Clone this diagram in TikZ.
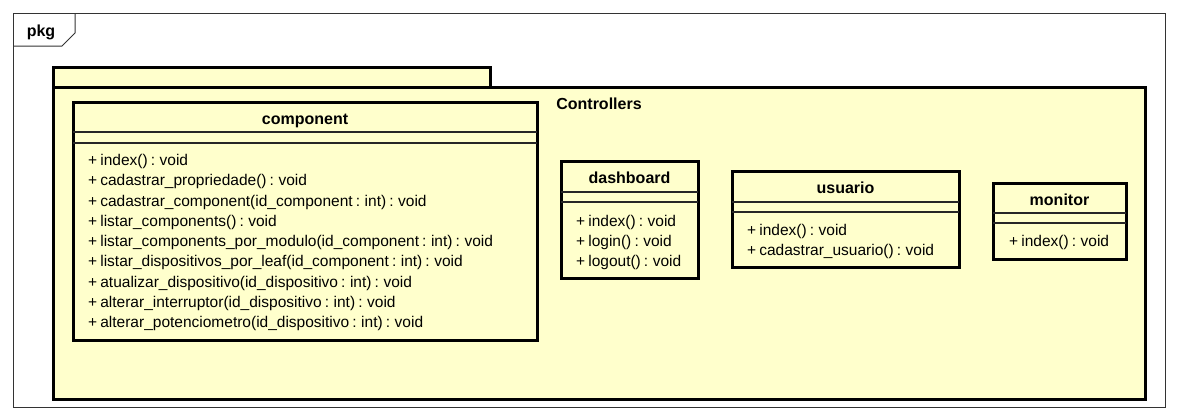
\documentclass[tikz,border=0pt]{standalone}
\usepackage{fontspec}
\setmainfont{Liberation Sans}
\definecolor{pkgfill}{HTML}{FFFFCC}
\definecolor{framecol}{HTML}{333333}
\newcommand{\methfont}{\fontsize{15.5}{18}\selectfont\spaceskip 0.2em\relax}
\begin{document}
\begin{tikzpicture}[x=1pt,y=-1pt,
  thickbox/.style={draw=black, line width=3pt, fill=pkgfill},
  sepline/.style={draw=black!85, line width=1.2pt},
  meth/.style={anchor=base west, inner sep=0pt, font=\methfont},
  cname/.style={anchor=base, inner sep=0pt, font=\bfseries\fontsize{16}{18}\selectfont}]
\useasboundingbox (0,0) rectangle (1177,418);
\fill[white] (0,0) rectangle (1177,418);
% outer frame
\draw[framecol, line width=1pt] (13,13) rectangle (1165,407);
\draw[framecol, line width=1pt] (13,46) -- (62,46) -- (75,33) -- (75,13);
\node[cname] (pkg) at (41,36) {pkg};
% package
\draw[thickbox] (53,67) rectangle (490,87);
\draw[thickbox] (53,87) rectangle (1145,399);
\node[cname] (ctrl) at (599,109) {Controllers};
% component
\draw[thickbox] (73,102) rectangle (537,340);
\draw[sepline] (73,132) -- (537,132);
\draw[sepline] (73,143) -- (537,143);
\node[cname] (compname) at (305,124) {component};
\node[meth] (c1) at (88,165.5) {+ index() : void};
\node[meth] (c2) at (88,185.75) {+ cadastrar\_propriedade() : void};
\node[meth] (c3) at (88,206) {+ cadastrar\_component(id\_component : int) : void};
\node[meth] (c4) at (88,226.25) {+ listar\_components() : void};
\node[meth] (c5) at (88,246.5) {+ listar\_components\_por\_modulo(id\_component : int) : void};
\node[meth] (c6) at (88,266.75) {+ listar\_dispositivos\_por\_leaf(id\_component : int) : void};
\node[meth] (c7) at (88,287) {+ atualizar\_dispositivo(id\_dispositivo : int) : void};
\node[meth] (c8) at (88,307.25) {+ alterar\_interruptor(id\_dispositivo : int) : void};
\node[meth] (c9) at (88,327.5) {+ alterar\_potenciometro(id\_dispositivo : int) : void};
% dashboard
\draw[thickbox] (561,161) rectangle (698,278);
\draw[sepline] (561,192) -- (698,192);
\draw[sepline] (561,202) -- (698,202);
\node[cname] (dashname) at (629.5,183) {dashboard};
\node[meth] (d1) at (576,226) {+ index() : void};
\node[meth] (d2) at (576,246) {+ login() : void};
\node[meth] (d3) at (576,266) {+ logout() : void};
% usuario
\draw[thickbox] (732,171) rectangle (959,267);
\draw[sepline] (732,202) -- (959,202);
\draw[sepline] (732,212) -- (959,212);
\node[cname] (usname) at (845.5,193) {usuario};
\node[meth] (u1) at (747,235) {+ index() : void};
\node[meth] (u2) at (747,255) {+ cadastrar\_usuario() : void};
% monitor
\draw[thickbox] (993,183) rectangle (1126,259);
\draw[sepline] (993,213) -- (1126,213);
\draw[sepline] (993,223) -- (1126,223);
\node[cname] (monname) at (1059.5,205) {monitor};
\node[meth] (m1) at (1009,246) {+ index() : void};
\end{tikzpicture}
\end{document}
